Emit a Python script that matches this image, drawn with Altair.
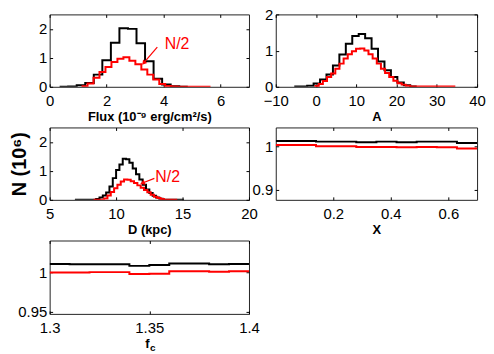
import altair as alt
import pandas as pd

FONT = "Liberation Sans"
BLACK = "#000000"
RED = "#ff0000"

# ---------------- data ----------------
# Panel 1: Flux (1e-9 erg/cm2/s), counts in 1e6
flux_black_edges = [0.35, 0.65, 0.95, 1.25, 1.55, 1.85, 2.15, 2.45, 2.75, 3.05,
                    3.35, 3.65, 3.95, 4.25, 4.55, 4.85]
flux_black_counts = [0.005, 0.01, 0.05, 0.13, 0.42, 0.92, 1.52, 2.02, 2.0, 1.5,
                     0.88, 0.28, 0.08, 0.02, 0.005]
flux_red_edges = [1.12, 1.33, 1.54, 1.75, 1.96, 2.17, 2.38, 2.59, 2.80, 3.01,
                  3.22, 3.43, 3.64, 3.85, 4.06, 4.27, 4.48, 5.65]
flux_red_counts = [0.02, 0.11, 0.31, 0.51, 0.68, 0.86, 0.97, 1.02, 0.9, 0.78,
                   0.6, 0.42, 0.25, 0.1, 0.03, 0.01, 0.003]

# Panel 2: A
a_black_edges = [-5.4, -3.8, -2.2, -0.6, 1.0, 2.6, 4.2, 5.8, 7.4, 9.0, 10.6,
                 12.2, 13.8, 15.4, 17.0, 18.6, 20.2, 21.8, 23.4, 25.0]
a_black_counts = [0.005, 0.01, 0.03, 0.09, 0.2, 0.34, 0.59, 0.89, 1.19, 1.4,
                  1.46, 1.34, 1.05, 0.7, 0.46, 0.27, 0.12, 0.04, 0.01]
a_red_edges = [-0.36, 0.67, 1.70, 2.73, 3.76, 4.79, 5.82, 6.85, 7.88, 8.91,
               9.94, 10.97, 12.00, 13.03, 14.06, 15.09, 16.12, 17.15, 18.18,
               19.21, 20.24, 21.27, 22.30, 23.33, 34.6]
a_red_counts = [0.02, 0.08, 0.16, 0.27, 0.37, 0.5, 0.64, 0.78, 0.9, 0.98, 1.05,
                1.06, 1.0, 0.9, 0.78, 0.64, 0.5, 0.38, 0.27, 0.17, 0.1, 0.06,
                0.03, 0.005]

# Panel 3: D (kpc)
d_black_edges = [6.9, 8.5, 8.75, 9.0, 9.25, 9.5, 9.75, 10.0, 10.25, 10.5, 10.75,
                 11.0, 11.25, 11.5, 11.75, 12.0, 12.25, 12.5, 12.75, 13.0, 13.25,
                 13.5, 15.1]
d_black_counts = [0.005, 0.03, 0.08, 0.15, 0.25, 0.46, 0.75, 1.03, 1.22, 1.42,
                  1.4, 1.28, 1.08, 0.88, 0.7, 0.52, 0.36, 0.24, 0.14, 0.08, 0.04,
                  0.005]
d_red_edges = [8.3, 9.1, 9.35, 9.6, 9.85, 10.1, 10.35, 10.6, 10.85, 11.1, 11.35,
               11.6, 11.85, 12.1, 12.35, 12.6, 12.85, 13.1, 13.35, 13.6, 14.6]
d_red_counts = [0.005, 0.05, 0.15, 0.27, 0.4, 0.52, 0.63, 0.7, 0.69, 0.64, 0.58,
                0.5, 0.42, 0.34, 0.26, 0.18, 0.11, 0.06, 0.03, 0.005]

# Panel 4: X
x_edges = [0.0, 0.07, 0.14, 0.21, 0.28, 0.35, 0.42, 0.49, 0.56, 0.63, 0.70]
x_black = [1.012, 1.012, 1.0105, 1.0105, 1.009, 1.0105, 1.009, 1.0105, 1.0105, 1.0075]
x_red = [1.003, 1.003, 1.0, 1.0, 0.998, 0.998, 0.9977, 0.998, 0.9977, 0.995]

# Panel 5: f_c
fc_edges = [1.30, 1.31, 1.32, 1.33, 1.34, 1.35, 1.36, 1.37, 1.38, 1.39, 1.40]
fc_black = [1.011, 1.0105, 1.0105, 1.0105, 1.0085, 1.0095, 1.0115, 1.0115, 1.0105, 1.011]
fc_red = [1.0, 1.0, 1.0005, 1.0005, 0.998, 0.9985, 1.0017, 1.0017, 1.001, 1.0017]

# tick values
flux_xticks = [0, 2, 4, 6]
a_xticks = [-10, 0, 10, 20, 30, 40]
d_xticks = [5, 10, 15, 20]
x_xticks = [0.2, 0.4, 0.6]
fc_xticks = [1.3, 1.35, 1.4]
hist_yticks = [0, 1, 2]
x_yticks = [0.9, 1]
fc_yticks = [0.95, 1]

FMT = "~r"


def step_frame(edges, counts):
    return pd.DataFrame({"x": edges, "y": list(counts) + [counts[-1]]})


def panel(black_df, red_df, xdom, ydom, xvals, yvals, xtitle, w, h,
          extras=(), yaxis_kw=None, xaxis_kw=None):
    xs = alt.Scale(domain=xdom, nice=False, zero=False)
    ys = alt.Scale(domain=ydom, nice=False, zero=False)
    xkw = dict(orient="bottom", values=xvals, title=xtitle, format=FMT)
    if xaxis_kw:
        xkw.update(xaxis_kw)
    ykw = dict(orient="left", values=yvals, title=None, format=FMT)
    if yaxis_kw:
        ykw.update(yaxis_kw)
    black = alt.Chart(black_df).mark_line(
        interpolate="step-after", color=BLACK, strokeWidth=2, clip=True
    ).encode(x=alt.X("x:Q", scale=xs, axis=alt.Axis(**xkw)),
             y=alt.Y("y:Q", scale=ys, axis=alt.Axis(**ykw)))
    red = alt.Chart(red_df).mark_line(
        interpolate="step-after", color=RED, strokeWidth=2, clip=True
    ).encode(x=alt.X("x:Q", scale=xs, axis=None),
             y=alt.Y("y:Q", scale=ys, axis=None))
    frame = alt.Chart(black_df).mark_point(opacity=0, clip=True).encode(
        x=alt.X("x:Q", scale=xs, axis=alt.Axis(orient="top", values=xvals,
                                               labels=False, title=None)),
        y=alt.Y("y:Q", scale=ys, axis=alt.Axis(orient="right", values=yvals,
                                               labels=False, title=None)))
    layers = [black, red] + [e(xs, ys) for e in extras] + [frame]
    return alt.layer(*layers).resolve_axis(
        x="independent", y="independent").properties(width=w, height=h)


def annotation(tx, ty, lx, ly, hx, hy, angle):
    def build(xs, ys):
        tdf = pd.DataFrame({"x": [tx], "y": [ty], "t": ["N/2"]})
        ldf = pd.DataFrame({"x": lx, "y": ly})
        hdf = pd.DataFrame({"x": [hx], "y": [hy]})
        txt = alt.Chart(tdf).mark_text(
            color=RED, font=FONT, fontSize=16, align="left", baseline="middle"
        ).encode(x=alt.X("x:Q", scale=xs, axis=None),
                 y=alt.Y("y:Q", scale=ys, axis=None), text="t:N")
        line = alt.Chart(ldf).mark_line(color=RED, strokeWidth=1.2).encode(
            x=alt.X("x:Q", scale=xs, axis=None),
            y=alt.Y("y:Q", scale=ys, axis=None))
        head = alt.Chart(hdf).mark_point(
            shape="triangle", filled=True, color=RED, opacity=1, size=30,
            angle=angle
        ).encode(x=alt.X("x:Q", scale=xs, axis=None),
                 y=alt.Y("y:Q", scale=ys, axis=None))
        return alt.layer(txt, line, head)
    return build


def subscript_c(xs, ys):
    df = pd.DataFrame({"t": ["c"]})
    return alt.Chart(df).mark_text(
        font=FONT, fontSize=10, fontWeight="bold", color=BLACK,
        align="center", baseline="middle"
    ).encode(text="t:N", x=alt.value(104), y=alt.value(108))


p1 = panel(step_frame(flux_black_edges, flux_black_counts),
           step_frame(flux_red_edges, flux_red_counts),
           [0, 7], [0, 2.5], flux_xticks, hist_yticks,
           "Flux (10\u207b\u2079 erg/cm\u00b2/s)", 201, 73,
           extras=[annotation(4.04, 1.49, [3.78, 3.32], [1.37, 0.84],
                              3.32, 0.84, 220)])
p2 = panel(step_frame(a_black_edges, a_black_counts),
           step_frame(a_red_edges, a_red_counts),
           [-10, 40], [0, 2], a_xticks, hist_yticks, "A", 203, 73)
p3 = panel(step_frame(d_black_edges, d_black_counts),
           step_frame(d_red_edges, d_red_counts),
           [5, 20], [0, 2.5], d_xticks, hist_yticks, "D (kpc)", 201, 73,
           extras=[annotation(12.95, 0.8, [12.88, 12.04], [0.74, 0.59],
                              12.04, 0.59, 249)],
           yaxis_kw=dict(title="N (10\u2076)", titleFontSize=20,
                         titleFontWeight="bold", titlePadding=9))
p4 = panel(step_frame(x_edges, x_black), step_frame(x_edges, x_red),
           [0, 0.7], [0.877, 1.043], x_xticks, x_yticks, "X", 203, 73)
p5 = panel(step_frame(fc_edges, fc_black), step_frame(fc_edges, fc_red),
           [1.3, 1.4], [0.947, 1.041], fc_xticks, fc_yticks, "f", 201, 74,
           extras=[subscript_c], xaxis_kw=dict(titleX=98))

chart = alt.concat(
    p1, p2, p3, p4, p5, columns=2,
    spacing={"row": 41, "column": 27}, bounds="flush"
).properties(
    padding={"left": 1, "top": -3, "right": 0, "bottom": 0}
).configure_view(
    stroke="#222222", strokeWidth=1
).configure_axis(
    offset=-3, tickSize=3, tickColor=BLACK, tickWidth=1, domain=False,
    grid=False, labelFont=FONT, labelFontSize=15, labelColor=BLACK,
    labelFlush=False, labelOverlap=False, titleFont=FONT, titleFontSize=13,
    titleFontWeight="bold", titleColor=BLACK
).configure_axisX(
    labelPadding=7, titlePadding=2
).configure_axisY(
    labelPadding=3
)

chart.save("out.html", embed_options={"renderer": "svg", "actions": False})
